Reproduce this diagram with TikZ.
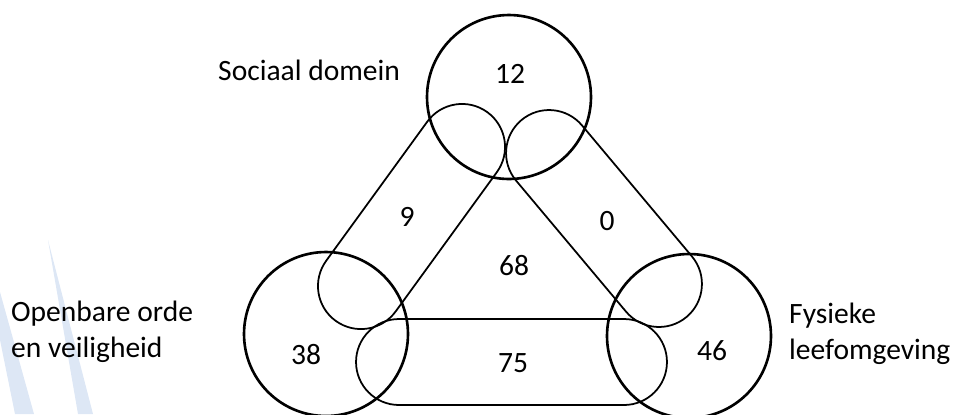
\documentclass[tikz,border=0pt]{standalone}
\usepackage{fontspec}
\setmainfont{Carlito}
\usepackage{tikz}
\definecolor{logoblue}{RGB}{221,231,245}
\tikzstyle{domaincircle} = [circle,draw,line width=1.5pt,minimum size=3.28cm,inner sep=0pt]
\tikzstyle{overlapbox} = [draw,line width=1pt,minimum height=1.72cm,rounded corners=0.86cm,inner sep=0pt]

\begin{document}
\begin{tikzpicture}[x=0.02cm,y=-0.02cm,every node/.style={font=\fontsize{16.8}{20.5}\selectfont}]
\useasboundingbox (0,0) rectangle (954,414);

% --- logo in the background ---
\fill[logoblue] (0,292) -- (34,414) -- (15,414) -- (0,340) -- cycle;
\fill[logoblue] (48,240) -- (93,414) -- (78,414) -- cycle;

% --- domains ---
\node[domaincircle] (soc) at (509,97) {};
\node[domaincircle] (orde) at (326,334) {};
\node[domaincircle] (fys) at (689,336) {};

% --- overlaps between two domains ---
\node[overlapbox,minimum width=5.16cm,rotate=54] (socorde) at (411.5,216.5) {};
\node[overlapbox,minimum width=5.14cm,rotate=-50] (socfys) at (604,218.5) {};
\node[overlapbox,minimum width=6.22cm] (ordefys) at (511.5,362) {};

% --- names ---
\node[anchor=base west] (socname) at (212,80) {Sociaal domein};
\node[anchor=west,align=left] (ordename) at (5,332) {Openbare orde\\en veiligheid};
\node[anchor=west,align=left] (fysname) at (783,334) {Fysieke\\leefomgeving};

% --- counts ---
\node[anchor=base] (n12) at (510,83) {12};
\node[anchor=base] (n38) at (306,364) {38};
\node[anchor=base] (n46) at (712,360) {46};
\node[anchor=base] (n9) at (407,226) {9};
\node[anchor=base] (n0) at (607,230) {0};
\node[anchor=base] (n68) at (514,275) {68};
\node[anchor=base] (n75) at (513,372) {75};

\end{tikzpicture}
\end{document}
